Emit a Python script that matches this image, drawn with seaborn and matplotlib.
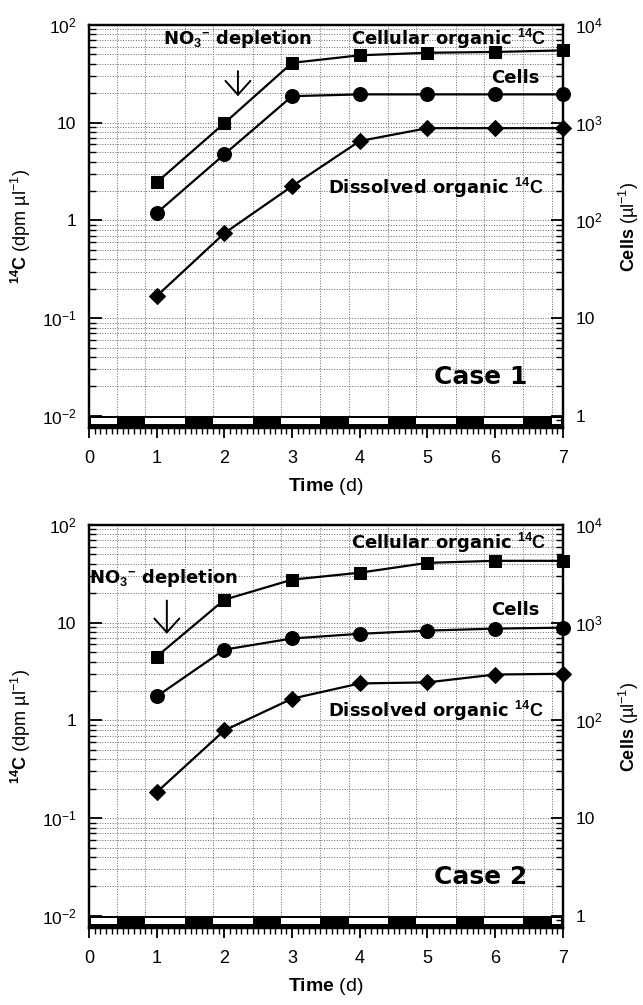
import numpy as np
import pandas as pd
import matplotlib
matplotlib.use('Agg')
import matplotlib.pyplot as plt
import seaborn as sns

# data
days = [1, 2, 3, 4, 5, 6, 7]
# case 1
cellular_c1 = [2.45, 9.9, 41, 49, 52, 53, 55]        # dpm/ul
dissolved_c1 = [0.168, 0.74, 2.24, 6.5, 8.8, 8.8, 8.8]  # dpm/ul
cells_c1 = [119, 475, 1870, 1950, 1950, 1950, 1950]  # cells/ul
# case 2
cellular_c2 = [4.5, 17.2, 27.6, 32.5, 41, 43, 43]
dissolved_c2 = [0.184, 0.79, 1.67, 2.39, 2.45, 2.95, 3.0]
cells_c2 = [176, 530, 690, 770, 830, 870, 890]

# light/dark cycle (dark from 10:00 to 20:00 each day)
dark_on = 10 / 24
dark_off = 20 / 24
n_days = 7

left_ticks = [1e-2, 1e-1, 1, 10, 1e2]
left_labels = ['10$^{-2}$', '10$^{-1}$', '1', '10', '10$^{2}$']
right_ticks = [1, 10, 1e2, 1e3, 1e4]
right_labels = ['1', '10', '10$^{2}$', '10$^{3}$', '10$^{4}$']

sns.set_style('ticks')
plt.rcParams['font.family'] = ['Liberation Sans', 'DejaVu Sans']
plt.rcParams['mathtext.fontset'] = 'custom'
plt.rcParams['mathtext.rm'] = 'Liberation Sans'
plt.rcParams['mathtext.bf'] = 'Liberation Sans:bold'
plt.rcParams['mathtext.it'] = 'Liberation Sans:italic'
for k in ('text.color', 'axes.labelcolor', 'xtick.color', 'ytick.color', 'axes.edgecolor'):
    plt.rcParams[k] = 'black'

YLO = 10 ** -2.125
YHI = 1e2

fig = plt.figure(figsize=(6.43, 10.05), dpi=100)


def panel(rect, cellular, dissolved, cells, case, notes):
    ax = fig.add_axes(rect)
    ax.set_yscale('log')
    ax.set_xlim(0, 7)
    ax.set_ylim(YLO, YHI)

    # dotted grid
    ax.yaxis.grid(True, which='both', linestyle=':', color='0.4', lw=0.7)
    ax.xaxis.grid(False)
    for d in range(n_days):
        for t in (d + dark_on, d + dark_off):
            ax.axvline(t, linestyle=':', color='0.4', lw=0.7, zorder=1)

    # light/dark bar along the bottom
    ax.axvspan(0, 7, ymin=0.002, ymax=0.03, color='black', lw=0, zorder=3)
    starts = [0.03] + [d + dark_off for d in range(n_days)]
    ends = [d + dark_on for d in range(n_days)] + [6.97]
    for s, e in zip(starts, ends):
        ax.axvspan(s, min(e, 6.97), ymin=0.009, ymax=0.024, color='white', lw=0, zorder=3)

    sns.lineplot(x=days, y=cellular, ax=ax, color='black', marker='s', markersize=9,
                 markeredgecolor='black', linewidth=1.6, zorder=5, clip_on=False)
    sns.lineplot(x=days, y=dissolved, ax=ax, color='black', marker='D', markersize=8.5,
                 markeredgecolor='black', linewidth=1.6, zorder=5, clip_on=False)

    ax2 = ax.twinx()
    ax2.set_yscale('log')
    ax2.set_ylim(YLO * 100, YHI * 100)
    sns.lineplot(x=days, y=cells, ax=ax2, color='black', marker='o', markersize=10,
                 markeredgecolor='black', linewidth=1.6, zorder=5, clip_on=False)
    ax2.set_xlim(0, 7)

    ax.set_yticks(left_ticks, left_labels)
    ax2.set_yticks(right_ticks, right_labels)
    ax.set_xticks(range(8))
    ax.set_xticks(np.arange(0, 7.01, 1 / 12), minor=True)

    ax.tick_params(axis='y', which='major', direction='in', length=9, width=1.3,
                   labelsize=12.5, pad=9, left=True)
    ax.tick_params(axis='y', which='minor', direction='in', length=5, width=1.0, left=True)
    ax2.tick_params(axis='y', which='major', direction='in', length=9, width=1.3,
                    labelsize=12.5, pad=9, right=True)
    ax2.tick_params(axis='y', which='minor', direction='in', length=5, width=1.0, right=True)
    ax.tick_params(axis='x', which='major', direction='out', length=7, width=1.3,
                   labelsize=13, pad=9, bottom=True)
    ax.tick_params(axis='x', which='minor', direction='out', length=4, width=1.0, bottom=True)

    for a in (ax, ax2):
        for sp in a.spines.values():
            sp.set_linewidth(1.6)
            sp.set_color('black')

    ax.set_xlabel(r'$\mathbf{Time}$ (d)', fontsize=14, labelpad=6)
    ax.set_ylabel(r'$^{\mathbf{14}}\mathbf{C}$ (dpm µl$^{-1}$)', fontsize=13, labelpad=6)
    ax2.set_ylabel(r'$\mathbf{Cells}$ (µl$^{-1}$)', fontsize=13, rotation=90, labelpad=10)

    # wider bold face to match the spaced-out lettering of the original
    bold = dict(fontsize=13, fontweight='bold', color='black', zorder=6,
                family=['DejaVu Sans'])
    ax.text(notes['cell_x'], notes['cell_y'], r'Cellular organic $^{\mathbf{14}}\mathbf{C}$',
            ha='right', va='center', **bold)
    ax.text(6.66, notes['cells_y'], 'Cells', ha='right', va='center', **bold)
    ax.text(6.72, notes['diss_y'], r'Dissolved organic $^{\mathbf{14}}\mathbf{C}$',
            ha='right', va='center', **bold)
    ax.text(notes['no3_x'], notes['no3_y'], r'NO$_{\mathbf{3}}$$^{\mathbf{-}}$ depletion',
            ha=notes['no3_ha'], va='center', **bold)
    ax.annotate('', xy=(notes['arr_x'], notes['arr_y1']), xytext=(notes['arr_x'], notes['arr_y0']),
                arrowprops=dict(arrowstyle='->,head_length=0.5,head_width=0.45', lw=1.4,
                                color='black', mutation_scale=20))
    ax.text(6.47, 0.025, case, ha='right', va='center', fontsize=18, fontweight='bold',
            zorder=6, family=['DejaVu Sans'])
    return ax


h = 0.401
panel([0.1384, 0.5741, 0.737, h], cellular_c1, dissolved_c1, cells_c1, 'Case 1',
      dict(cell_x=6.75, cell_y=72, cells_y=28.6, diss_y=2.13,
           no3_x=2.2, no3_y=72, no3_ha='center', arr_x=2.2, arr_y0=36, arr_y1=17.5))
panel([0.1384, 0.0766, 0.737, h], cellular_c2, dissolved_c2, cells_c2, 'Case 2',
      dict(cell_x=6.75, cell_y=65, cells_y=13.5, diss_y=1.24,
           no3_x=0.0, no3_y=28.8, no3_ha='left', arr_x=1.15, arr_y0=18, arr_y1=7.2))

fig.savefig('out.png', dpi=100)
